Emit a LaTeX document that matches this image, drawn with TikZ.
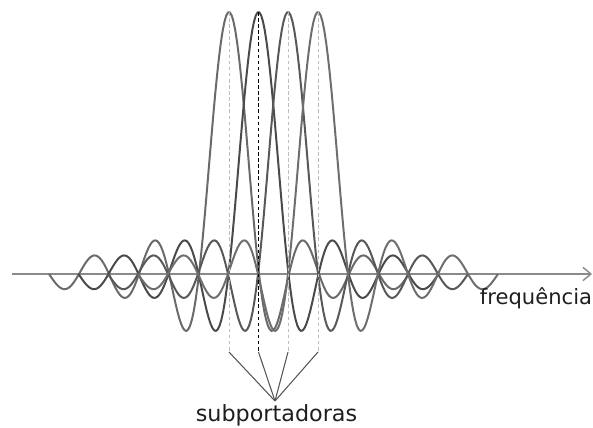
\documentclass[tikz,border=0pt]{standalone}
\usepackage{fontspec}
\setmainfont{DejaVu Sans}
\usetikzlibrary{arrows.meta}
\definecolor{ink}{HTML}{1E1E1E}
\definecolor{axisline}{HTML}{8A8A8A}
\definecolor{waveA}{HTML}{6A6A6A}
\definecolor{waveB}{HTML}{4A4A4A}
\definecolor{waveC}{HTML}{585858}
\definecolor{waveD}{HTML}{6E6E6E}
\definecolor{guideline}{HTML}{BDBDBD}
\definecolor{legline}{HTML}{555555}
\tikzset{
 every node/.append style={text=ink,inner sep=0pt},
 axis/.style={draw=axisline,line width=1.6pt,-{Straight Barb[length=2.4mm,width=4mm,line width=1.2pt]}},
 wave/.style={line width=1.7pt},
 guide/.style={draw=guideline,line width=.8pt,dash pattern=on 3pt off 2.2pt},
 guidekey/.style={guide,draw=black,line width=1pt},
 leg/.style={draw=legline,line width=.9pt},
 tag/.style={anchor=base,font=\fontsize{19}{22}\selectfont},
}

\begin{document}
\begin{tikzpicture}[x=0.03cm,y=0.03cm]
\useasboundingbox (0,-154) rectangle (593,274);

\coordinate (a0) at (12,0);
\coordinate (a1) at (592,0);
\draw[axis] (a0) -- (a1);

% subportadoras (sinc)
\draw[wave,draw=waveA] plot[domain=-6:6,samples=200] ({229+30*\x},{262*sin(180*\x)/(pi*\x)});
\draw[wave,draw=waveB] plot[domain=-6:6,samples=200] ({258.5+30*\x},{262*sin(180*\x)/(pi*\x)});
\draw[wave,draw=waveC] plot[domain=-6:6,samples=200] ({288+30*\x},{262*sin(180*\x)/(pi*\x)});
\draw[wave,draw=waveD] plot[domain=-6:6,samples=200] ({318+30*\x},{262*sin(180*\x)/(pi*\x)});

\coordinate (p1) at (229,262);
\coordinate (p2) at (258.5,262);
\coordinate (p3) at (288,262);
\coordinate (p4) at (318,262);
\coordinate (f1) at (229,-78);
\coordinate (f2) at (258.5,-78);
\coordinate (f3) at (288,-78);
\coordinate (f4) at (318,-78);
\coordinate (conv) at (275,-127);

\draw[guide] (p1) -- (f1);
\draw[guidekey] (p2) -- (f2);
\draw[guide] (p3) -- (f3);
\draw[guide] (p4) -- (f4);

\draw[leg] (f1) -- (conv);
\draw[leg] (f2) -- (conv);
\draw[leg] (f3) -- (conv);
\draw[leg] (f4) -- (conv);

\node[tag] (sub) at (276.5,-148) {subportadoras};
\node[tag,font=\fontsize{18}{21}\selectfont] (freq) at (536,-31) {frequência};

\end{tikzpicture}
\end{document}
